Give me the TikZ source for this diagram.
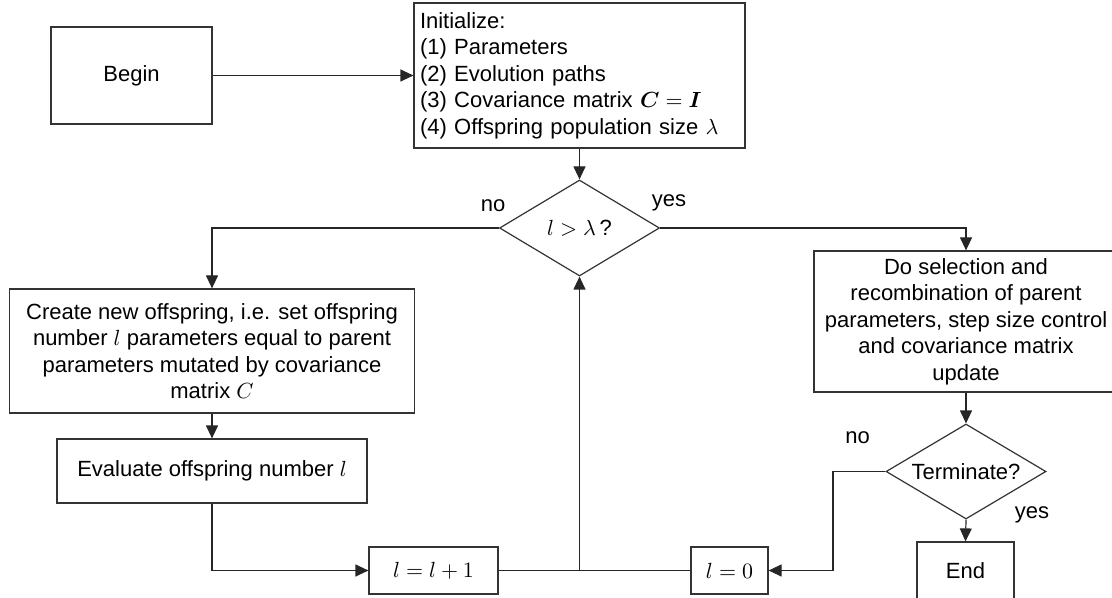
\documentclass[tikz,border=0pt]{standalone}
\usepackage{amsmath,bm}
\usepackage{fontspec}
\setmainfont{Liberation Sans}
\usetikzlibrary{shapes.geometric,arrows.meta}
\begin{document}
\begin{tikzpicture}[x=0.5pt,y=-0.5pt,
  base/.style={draw=black!80, line width=0.6pt, font=\fontsize{11}{13.25}\selectfont, inner sep=0pt, align=center},
  box/.style={base, rectangle},
  dia/.style={base, diamond, aspect=1.67},
  conn/.style={draw=black!85, line width=0.6pt},
  arr/.style={conn, -{Triangle[length=6.5pt,width=6pt]}},
  lbl/.style={font=\fontsize{11}{13.25}\selectfont, inner sep=0pt}]
\useasboundingbox (0,0) rectangle (1112,598);

\node[box, minimum width=80.5pt, minimum height=48.5pt] (begin) at (131.5,75.5) {Begin};
\node[box, minimum width=165.5pt, minimum height=72.5pt, text width=159.5pt, align=left, inner xsep=3pt] (init) at (579.5,75.5)
  {Initialize:\\(1) Parameters\\(2) Evolution paths\\(3) Covariance matrix $\bm{C}=\bm{I}$\\(4) Offspring population size $\lambda$};
\node[dia, minimum width=80pt, minimum height=48pt] (d1) at (579.5,228) {$l>\lambda$\,?};
\node[box, minimum width=202.75pt, minimum height=62pt] (create) at (212,351)
  {Create new offspring, i.e. set offspring\\number $l$ parameters equal to parent\\parameters mutated by covariance\\matrix $C$};
\node[box, minimum width=155pt, minimum height=32pt] (eval) at (212,471) {Evaluate offspring number $l$};
\node[box, minimum width=64.5pt, minimum height=23.5pt] (inc) at (433.5,570.5) {$l=l+1$};
\node[box, minimum width=38.5pt, minimum height=23.5pt] (zero) at (729.5,570.5) {$l=0$};
\node[box, minimum width=152pt, minimum height=70.5pt] (sel) at (966,321.5)
  {Do selection and\\recombination of parent\\parameters, step size control\\and covariance matrix\\update};
\node[dia, minimum width=80pt, minimum height=47.5pt] (term) at (966,471.5) {Terminate?};
\node[box, minimum width=48.5pt, minimum height=29pt] (end) at (965.5,571) {End};

\draw[arr] (begin.east) -- (init.west);
\draw[arr] (init.south) -- (d1.north);
\draw[arr] (d1.west) -| (create.north);
\draw[arr] (d1.east) -| (sel.north);
\draw[arr] (create.south) -- (eval.north);
\draw[arr] (eval.south) |- (inc.west);
\draw[conn] (inc.east) -- (zero.west);
\coordinate (j) at (d1.south |- inc.east);
\draw[arr] (j) -- (d1.south);
\draw[arr] (sel.south) -- (term.north);
\draw[arr] (term.south) -- (end.north);
\coordinate (k) at (833,471.5);
\draw[arr] (term.west) -- (k) |- (zero.east);

\node[lbl] (no1) at (493,206) {no};
\node[lbl] (yes1) at (669,203) {yes};
\node[lbl] (no2) at (857.5,438) {no};
\node[lbl] (yes2) at (1032,515) {yes};
\end{tikzpicture}
\end{document}
